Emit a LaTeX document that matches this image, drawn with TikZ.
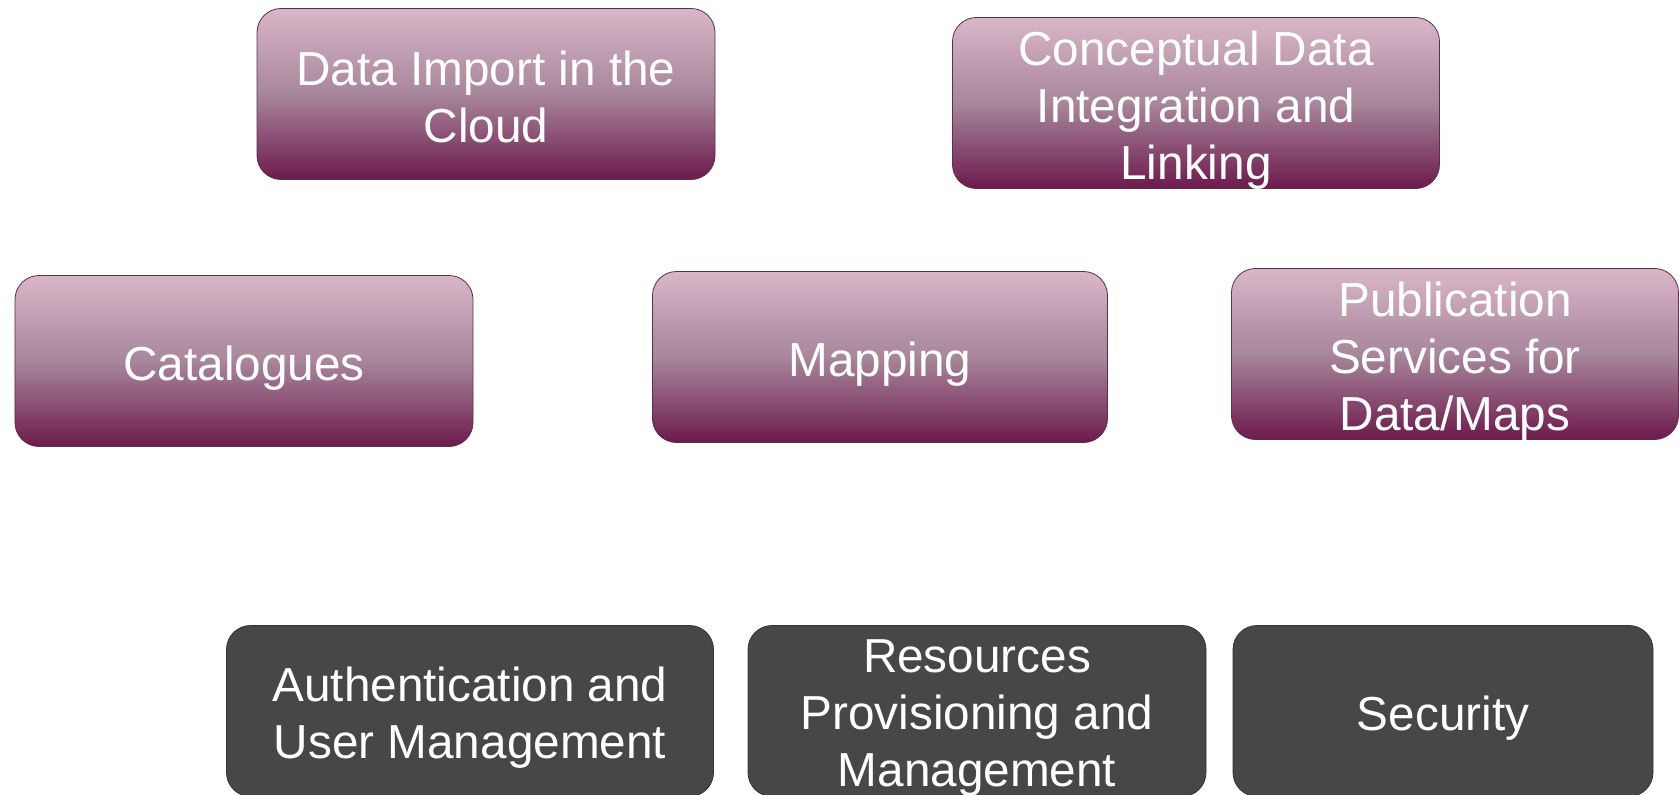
\documentclass[tikz,border=0pt]{standalone}
\usepackage{fontspec}
\setmainfont{Liberation Sans}

\definecolor{plumtop}{HTML}{D9B6C7}
\definecolor{plummid}{HTML}{A8869B}
\definecolor{plumbot}{HTML}{6C1A4C}
\definecolor{plumline}{HTML}{5A3049}
\definecolor{slatefill}{HTML}{474747}
\definecolor{slateline}{HTML}{333333}

\tikzset{
  boxtext/.style={inner sep=0pt, align=center, text=white, yshift=-7bp,
    font=\fontsize{47.7bp}{57bp}\selectfont},
  svcbox/.style={rounded corners=24bp, minimum width=#1, minimum height=171bp,
    inner sep=0pt},
  plumbox/.style={svcbox=#1, draw=plumline, line width=0.8bp,
    top color=plumtop, bottom color=plumbot, middle color=plummid},
  slatebox/.style={svcbox=#1, draw=slateline, line width=0.8bp, fill=slatefill},
}

\begin{document}
\begin{tikzpicture}[x=1bp, y=-1bp]
    \useasboundingbox (0,0) rectangle (1679,795);
    % cloud data services
    \node[plumbox=458bp, label={[boxtext, yshift=4bp]center:{Data Import in the\\Cloud}}] (import) at (486,94) {};
    \node[plumbox=487bp, label={[boxtext]center:{Conceptual Data\\Integration and\\Linking}}] (linking) at (1196,103) {};
    \node[plumbox=458bp, label={[boxtext]center:{Catalogues}}] (catalogues) at (244,361) {};
    \node[plumbox=455bp, label={[boxtext]center:{Mapping}}] (mapping) at (880,357) {};
    \node[plumbox=447bp, label={[boxtext]center:{Publication\\Services for\\Data/Maps}}] (publication) at (1455,354) {};
    % infrastructure services
    \node[slatebox=487bp, label={[boxtext]center:{Authentication and\\User Management}}] (auth) at (470,711) {};
    \node[slatebox=458bp, label={[boxtext]center:{Resources\\Provisioning and\\Management}}] (resources) at (977,711) {};
    \node[slatebox=420bp, label={[boxtext]center:{Security}}] (security) at (1443,711) {};
\end{tikzpicture}
\end{document}
